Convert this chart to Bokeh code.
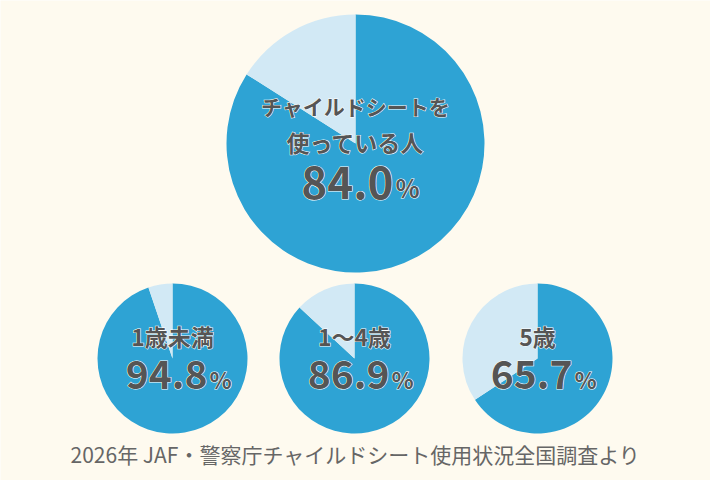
import math
from bokeh.plotting import figure
from bokeh.models import Range1d
from bokeh.core.properties import value
from bokeh.embed import file_html
from bokeh.resources import INLINE

# ---- data ----
main_label_line1 = "チャイルドシートを"
main_label_line2 = "使っている人"
main_value = 84.0
small_labels = ["1歳未満", "1〜4歳", "5歳"]
small_values = [94.8, 86.9, 65.7]
source_note = "2026年 JAF・警察庁チャイルドシート使用状況全国調査より"

# ---- style ----
BG = "#fefaef"
DARK = "#2ea3d4"
LIGHT = "#d2e9f5"
TXT = "#555555"
FONT = "Noto Sans CJK JP"

W, H = 710, 480
p = figure(width=W, height=H, output_backend="svg", toolbar_location=None,
           x_range=Range1d(0, W), y_range=Range1d(0, H),
           min_border=0, background_fill_color=BG, border_fill_color=BG,
           outline_line_color=None)
p.axis.visible = False
p.grid.visible = False

# layout (screen-y converted to upward data-y: y = 480 - img_y)
big_cx, big_cy, big_r = 355, 480 - 143, 129
small_cx = [172, 354, 537]
small_cy = 480 - 358
small_r = 75

def pie(cx, cy, r, v):
    frac = v / 100.0
    a0 = math.pi / 2
    p.wedge(x=[cx], y=[cy], radius=r, start_angle=[a0 - 2 * math.pi * frac],
            end_angle=[a0], fill_color=DARK, line_color=None)
    p.wedge(x=[cx], y=[cy], radius=r, start_angle=[a0],
            end_angle=[a0 + 2 * math.pi * (1 - frac)], fill_color=LIGHT, line_color=None)

pie(big_cx, big_cy, big_r, main_value)
for cx, v in zip(small_cx, small_values):
    pie(cx, small_cy, small_r, v)

def label(x, y, t, size, align="center", weight="bold", color=TXT):
    common = dict(x=[x], y=[y], text=[t], text_font=value(FONT),
                  text_font_size=f"{size}px", text_font_style=weight,
                  text_align=align, text_baseline="middle")
    # white halo, then solid fill on top
    p.text(text_color="white", text_outline_color="white", **common)
    p.text(text_color=color, **common)

# big pie texts
label(big_cx, 480 - 105, main_label_line1, 21)
label(big_cx, 480 - 141, main_label_line2, 23)
label(big_cx + 38, 480 - 182, f"{main_value:.1f}", 44, align="right")
label(big_cx + 40, 480 - 186, "%", 25, align="left")

# small pie texts
for cx, lab, v in zip(small_cx, small_labels, small_values):
    label(cx, 480 - 335, lab, 23)
    label(cx + 35, 480 - 374, f"{v:.1f}", 39, align="right")
    label(cx + 37, 480 - 378, "%", 23, align="left")

# footer
p.text(x=[355], y=[480 - 453], text=[source_note], text_font=value(FONT),
       text_font_size="21px", text_color="#666666", text_align="center",
       text_baseline="middle")

open("out.html", "w").write(file_html(p, INLINE))
